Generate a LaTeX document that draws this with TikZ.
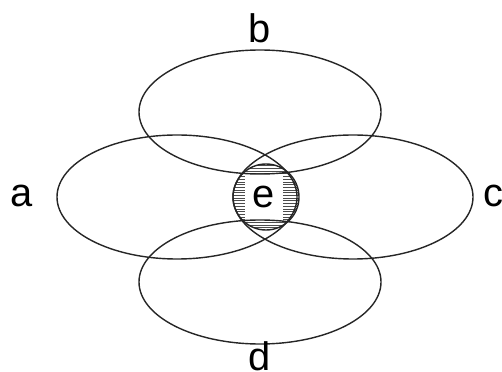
\documentclass[tikz,border=0pt]{standalone}
\usepackage{fontspec}
\setmainfont{Liberation Sans}
\begin{document}
\begin{tikzpicture}[x=0.03cm, y=-0.03cm, line width=1.2pt, draw=black!85]
  % 画像と同じ大きさの枠 (502 x 372)
  \useasboundingbox (0,0) rectangle (502,372);

  % 中心の円 e の横縞
  \coordinate (E) at (266,197);
  \begin{scope}
    \clip (E) circle (33);
    \foreach \y in {163,165.7,...,232} {
      \draw[line width=0.6pt, black!70] (230,\y) -- (302,\y);
    }
  \end{scope}

  % 文字 e の白抜き
  \fill[white] (245,175) rectangle (283,220);

  % 四つの楕円 (横半径 121, 縦半径 62)
  \draw (260,112) ellipse (121 and 62);
  \draw (260,282) ellipse (121 and 62);
  \draw (177,197) ellipse (120 and 62);
  \draw (353,197) ellipse (120 and 62);
  \draw (E) circle (33);

  % ラベル
  \node[font=\fontsize{34}{40}\selectfont, anchor=base, inner sep=0pt] (e) at (264,208) {e};
  \node[font=\fontsize{34}{40}\selectfont, anchor=base, inner sep=0pt] (a) at (22,207) {a};
  \node[font=\fontsize{34}{40}\selectfont, anchor=base, inner sep=0pt] (b) at (260,43) {b};
  \node[font=\fontsize{34}{40}\selectfont, anchor=base, inner sep=0pt] (c) at (493,207) {c};
  \node[font=\fontsize{34}{40}\selectfont, anchor=base, inner sep=0pt] (d) at (260,370) {d};
\end{tikzpicture}
\end{document}
